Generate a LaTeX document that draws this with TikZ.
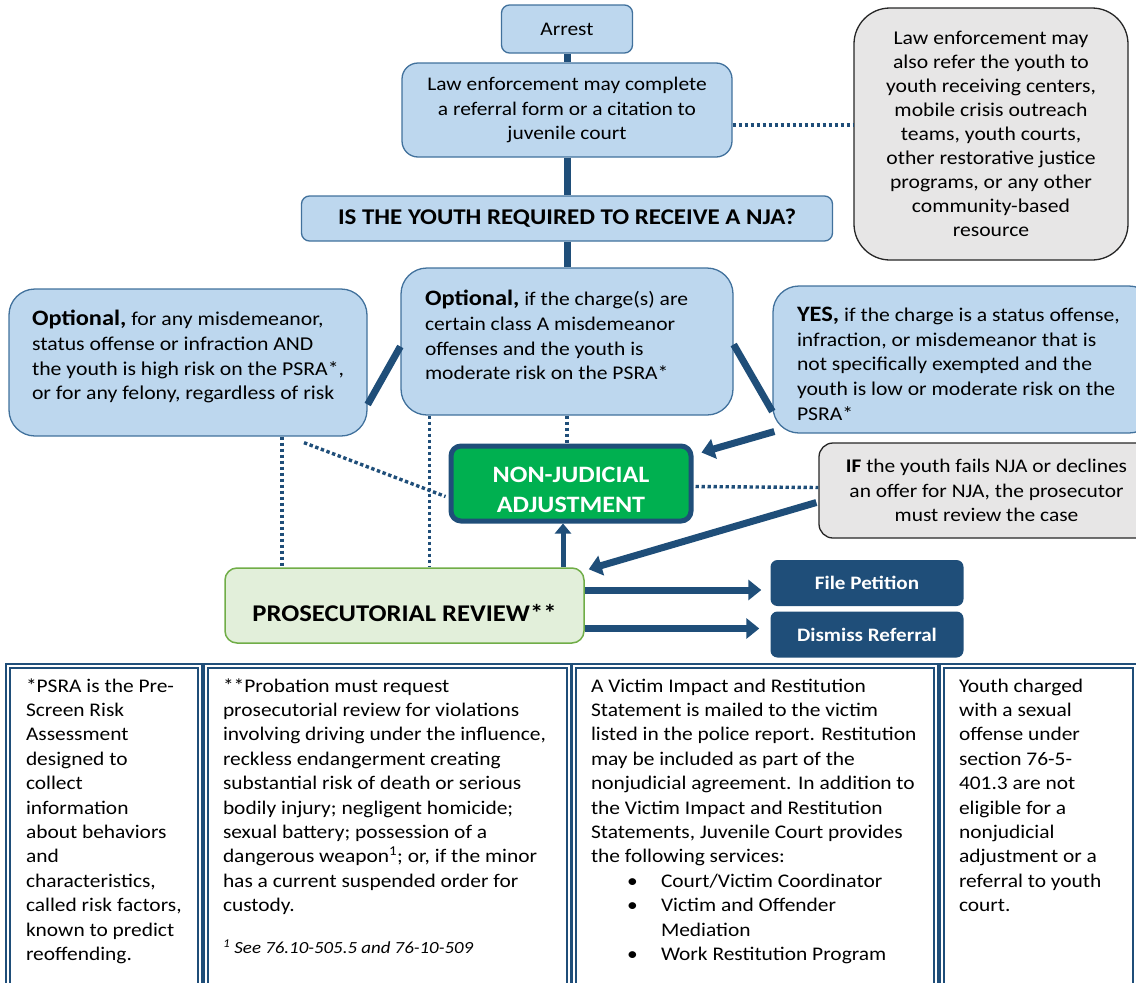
\documentclass[tikz,border=0pt]{standalone}
\usepackage{fontspec}
\setmainfont{Carlito}[FakeStretch=1.11]
\usetikzlibrary{arrows.meta,calc}
\definecolor{navyline}{HTML}{1F4E79}
\definecolor{paleblue}{HTML}{BDD7EE}
\definecolor{blueedge}{HTML}{41719C}
\definecolor{palegray}{HTML}{E7E6E6}
\definecolor{njagreen}{HTML}{00B050}
\definecolor{palegreen}{HTML}{E2EFDA}
\definecolor{greenedge}{HTML}{70AD47}
\newcommand{\bodyfont}{\fontsize{19.3}{24.4}\selectfont}
\newcommand{\leadword}[1]{\textbf{\fontsize{22}{24.8}\selectfont #1}}
\newcommand{\notebody}[3]{\parbox[t][330pt][t]{#1}{\bodyfont\raggedright\leftskip=#2\relax\strut #3}}
\tikzset{
  bluebox/.style={draw=blueedge, fill=paleblue, line width=1.3pt, rounded corners=12pt, inner sep=0pt, font=\bodyfont},
  optbox/.style={bluebox, rounded corners=26pt, minimum height=147pt, inner xsep=24pt, align=flush left},
  graybox/.style={draw=black!85, fill=palegray, line width=1.3pt, rounded corners=14pt, inner sep=0pt, font=\bodyfont},
  trunk/.style={draw=navyline, line width=7pt},
  link/.style={draw=navyline, line width=3.4pt, dash pattern=on 3.4pt off 2.6pt},
  flow/.style={draw=navyline, line width=7pt, -{Triangle[length=13pt,width=20pt]}},
  flowsmall/.style={draw=navyline, line width=5pt, -{Triangle[length=10pt,width=16pt]}},
  outcome/.style={fill=navyline, rounded corners=7pt, minimum width=193pt, minimum height=46pt, text=white, font=\fontsize{19}{22}\selectfont\bfseries},
  notebox/.style={draw=navyline, line width=2pt, double=white, double distance=1.2pt, inner xsep=0pt, inner ysep=9pt, anchor=north west},
}
\begin{document}
\begin{tikzpicture}[x=1pt,y=-1pt]
  \useasboundingbox (0,0) rectangle (1136,983);

  \node[bluebox, rounded corners=8pt, minimum width=131pt, minimum height=48pt] (arrest) at (567,29) {Arrest};
  \node[bluebox, rounded corners=16pt, minimum width=330pt, minimum height=94pt, align=center] (lenforce) at (567,110) {Law enforcement may complete\\a referral form or a citation to\\juvenile court};
  \node[graybox, rounded corners=36pt, minimum width=274pt, minimum height=252pt, align=center, font=\fontsize{19.5}{24}\selectfont] (altref) at (991,134) {Law enforcement may\\also refer the youth to\\youth receiving centers,\\mobile crisis outreach\\teams, youth courts,\\other restorative justice\\programs, or any other\\community-based\\resource};
  \node[bluebox, rounded corners=8pt, minimum width=531pt, minimum height=45pt, font=\fontsize{22.5}{26}\selectfont\bfseries] (question) at (567,218.5) {IS THE YOUTH REQUIRED TO RECEIVE A NJA?};

  \node[optbox, text width=284pt, font=\fontsize{19.4}{24.8}\selectfont] (optmid) at (567,341.5) {\leadword{Optional,} if the charge(s) are\\certain class A misdemeanor\\offenses and the youth is\\moderate risk on the PSRA*\rule[-13pt]{0pt}{1pt}};
  \node[optbox, text width=312pt, inner xsep=23pt, font=\fontsize{19.6}{24.8}\selectfont] (optleft) at (188,362.5) {\leadword{Optional,} for any misdemeanor,\\\mbox{status offense or infraction AND}\\\mbox{the youth is high risk on the PSRA*,}\\\mbox{or for any felony, regardless of risk}\rule[-15pt]{0pt}{1pt}};
  \node[optbox, text width=334pt, font=\fontsize{19.5}{24.8}\selectfont] (optyes) at (964,359.5) {\rule{0pt}{23pt}\leadword{YES,} if the charge is a status offense,\\infraction, or misdemeanor that is\\not specifically exempted and the\\youth is low or moderate risk on the\\PSRA*};

  \node[draw=navyline, line width=5pt, fill=njagreen, rounded corners=10pt, minimum width=240pt, minimum height=75pt, text=white, align=center, font=\fontsize{23.5}{30}\selectfont\bfseries] (nja) at (571,483.5) {\rule{0pt}{28pt}NON-JUDICIAL\\ADJUSTMENT};
  \node[graybox, minimum width=335pt, minimum height=95pt, align=center] (failbox) at (986.5,490.5) {\textbf{IF} the youth fails NJA or declines\\an offer for NJA, the prosecutor\\must review the case};
  \node[draw=greenedge, fill=palegreen, line width=1.5pt, rounded corners=12pt, minimum width=359pt, minimum height=75pt, font=\fontsize{24}{28}\selectfont\bfseries] (prosrev) at (404.5,605.5) {\rule{0pt}{33pt}PROSECUTORIAL REVIEW**};
  \node[outcome] (petition) at (867,583) {File Petition};
  \node[outcome] (dismiss) at (867,634.5) {Dismiss Referral};

  \draw[trunk] (arrest) -- (lenforce);
  \draw[trunk] (lenforce) -- (question);
  \draw[trunk] (question) -- (optmid);
  \draw[trunk] ($(optmid.west)+(0,5)$) -- ($(optleft.east)+(0,42)$);
  \draw[trunk] ($(optmid.east)+(0,3)$) -- ($(optyes.west)+(0,52)$);
  \draw[flow] ($(optyes.west)+(2,72)$) -- ($(nja.north east)+(8,9)$);
  \draw[flow] ($(failbox.west)+(-2,12)$) -- ($(prosrev.north east)+(4,2)$);
  \coordinate (njafoot) at ($(nja.south)+(-8,0)$);
  \draw[flowsmall] (njafoot |- prosrev.north) -- (njafoot);
  \draw[flow] ($(prosrev.east |- petition)+(0,7)$) -- ($(petition.west)+(-9,7)$);
  \draw[flow] ($(prosrev.east |- dismiss)+(0,-6)$) -- ($(dismiss.west)+(-11,-6)$);

  \coordinate (leftdrop) at ($(optleft.south)+(94,0)$);
  \coordinate (middrop) at ($(optmid.south west)+(29,0)$);
  \draw[link] ($(lenforce.east)+(0,15)$) -- ($(altref.west)+(0,-9)$);
  \draw[link] (leftdrop) -- (leftdrop |- prosrev.north);
  \draw[link] (middrop) -- (middrop |- prosrev.north);
  \draw[link] ($(optleft.south)+(116,6)$) -- ($(nja.west)+(-3,13)$);
  \draw[link] (optmid.south) -- (optmid.south |- nja.north);
  \draw[link] ($(nja.east)+(2,3)$) -- ($(failbox.west)+(0,-3)$);

  \node[notebox] (psranote) at (7,665) {\notebody{192pt}{18pt}{*PSRA is the Pre-\\Screen Risk\\Assessment\\designed to\\collect\\information\\about behaviors\\and\\characteristics,\\called risk factors,\\known to predict\\reoffending.}};
  \node[notebox] (probnote) at (205,665) {\notebody{363pt}{17pt}{**Probation must request\\prosecutorial review for violations\\involving driving under the influence,\\reckless endangerment creating\\substantial risk of death or serious\\bodily injury; negligent homicide;\\sexual battery; possession of a\\dangerous weapon\textsuperscript{1}; or, if the minor\\has a current suspended order for\\custody.\par\vspace{22pt}{\fontsize{17}{20}\selectfont\itshape \textsuperscript{1} See 76.10-505.5 and 76-10-509\par}}};
  \node[notebox] (victimnote) at (573,665) {\notebody{362pt}{17pt}{A Victim Impact and Restitution\\Statement is mailed to the victim\\listed in the police report. Restitution\\may be included as part of the\\nonjudicial agreement. In addition to\\the Victim Impact and Restitution\\Statements, Juvenile Court provides\\the following services:\\\hspace*{36pt}\makebox[34pt][l]{\textbullet}Court/Victim Coordinator\\\hspace*{36pt}\makebox[34pt][l]{\textbullet}Victim and Offender\\\hspace*{70pt}Mediation\\\hspace*{36pt}\makebox[34pt][l]{\textbullet}Work Restitution Program}};
  \node[notebox] (sexnote) at (941,665) {\notebody{193pt}{17pt}{Youth charged\\with a sexual\\offense under\\section 76-5-\\401.3 are not\\eligible for a\\nonjudicial\\adjustment or a\\referral to youth\\court.}};
\end{tikzpicture}
\end{document}
